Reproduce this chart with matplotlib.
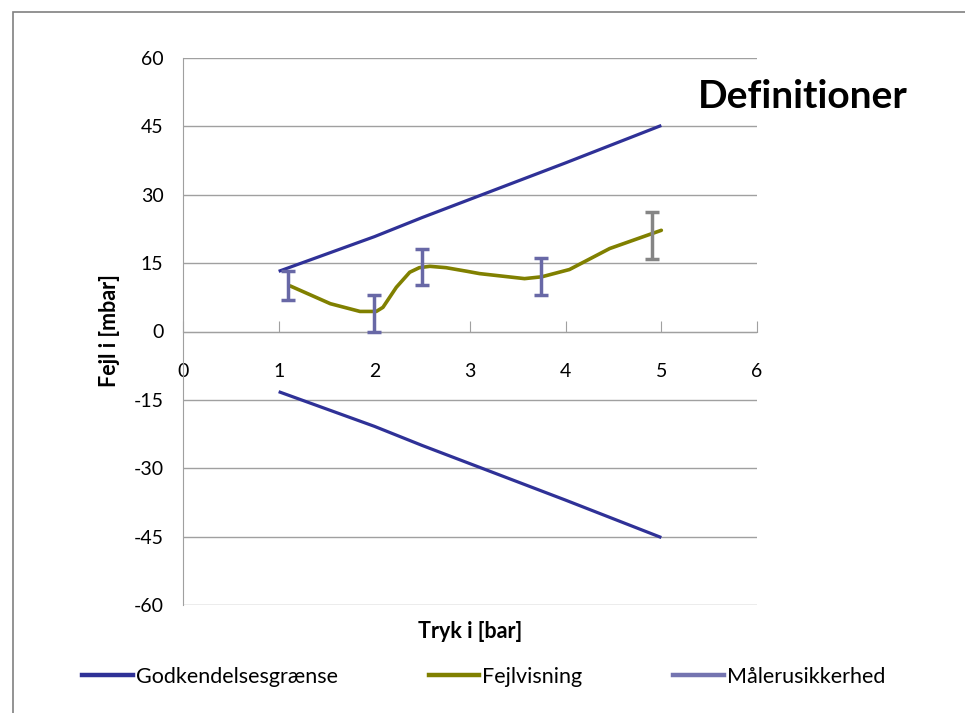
import matplotlib
matplotlib.use("Agg")
import matplotlib.pyplot as plt
from matplotlib.lines import Line2D
from matplotlib.patches import Rectangle

plt.rcParams['font.family'] = ['Lato', 'DejaVu Sans']
plt.rcParams['axes.unicode_minus'] = False

# Godkendelsesgrænse (upper / lower limits)
limit_x = [1.0, 1.5, 2.0, 2.5, 3.0, 3.75, 4.0, 5.0]
limit_upper = [13.2, 17.0, 20.8, 25.0, 29.0, 35.0, 37.0, 45.2]
limit_lower = [-13.2, -17.0, -20.8, -25.0, -29.0, -35.0, -37.0, -45.2]

# Fejlvisning
fejl_x = [1.12, 1.54, 1.85, 2.02, 2.09, 2.23, 2.37, 2.47, 2.58, 2.75, 2.97, 3.1, 3.57, 3.75, 4.04, 4.46, 5.0]
fejl_y = [10.0, 6.1, 4.4, 4.4, 5.3, 9.7, 13.0, 14.0, 14.3, 14.0, 13.2, 12.7, 11.6, 12.0, 13.6, 18.2, 22.2]

# Målerusikkerhed (error bars)
usik_x = [1.1, 2.0, 2.5, 3.74, 4.9]
usik_y = [10.1, 4.0, 14.2, 12.1, 21.0]
usik_err = [3.1, 4.1, 4.0, 4.0, 5.2]
usik_colors = ['#6868a6', '#6868a6', '#6868a6', '#6868a6', '#858585']

x_ticks = [0, 1, 2, 3, 4, 5, 6]
y_ticks = [-60, -45, -30, -15, 0, 15, 30, 45, 60]

blue = '#2f3197'
olive = '#808000'
grid_c = '#a0a0a0'

fig = plt.figure(figsize=(9.65, 7.13), dpi=100)
ax = fig.add_axes([183 / 965, 1 - 605 / 713, (757 - 183) / 965, (605 - 58) / 713])

ax.plot(limit_x, limit_upper, color=blue, lw=2.3, solid_capstyle='butt', zorder=3)
ax.plot(limit_x, limit_lower, color=blue, lw=2.3, solid_capstyle='butt', zorder=3)
ax.plot(fejl_x, fejl_y, color=olive, lw=2.6, solid_capstyle='round', zorder=3)

for xv, yv, ev, c in zip(usik_x, usik_y, usik_err, usik_colors):
    ax.errorbar([xv], [yv], yerr=[ev], fmt='none', ecolor=c, elinewidth=2.5,
                capsize=5, capthick=2.5, zorder=4)

ax.set_xlim(0, 6)
ax.set_ylim(-60, 60)
ax.set_xticks(x_ticks)
ax.set_yticks(y_ticks)
ax.yaxis.grid(True, color=grid_c, lw=1.0)
ax.set_axisbelow(True)

for s in ['top', 'right']:
    ax.spines[s].set_visible(False)
ax.spines['left'].set_color(grid_c)
ax.spines['bottom'].set_position(('data', 0))
ax.spines['bottom'].set_color(grid_c)

ax.tick_params(axis='x', direction='in', length=8, color=grid_c, pad=23, labelsize=14)
ax.tick_params(axis='y', length=0, pad=14, labelsize=14)

fig.text(470 / 965, 1 - 632 / 713, 'Tryk i [bar]', ha='center', va='center',
         fontsize=15.5, fontweight='bold')
fig.text(109 / 965, 1 - 331 / 713, 'Fejl i [mbar]', ha='center', va='center',
         rotation=90, fontsize=15.5, fontweight='bold')
fig.text(803 / 965, 1 - 97 / 713, 'Definitioner', ha='center', va='center',
         fontsize=28, fontweight='bold')

handles = [Line2D([], [], color=blue, lw=3.2),
           Line2D([], [], color=olive, lw=3.2),
           Line2D([], [], color='#7474b0', lw=3.2)]
labels = ['Godkendelsesgrænse', 'Fejlvisning', 'Målerusikkerhed']
fig.legend(handles, labels, loc='center left', bbox_to_anchor=(63 / 965, 1 - 677 / 713),
           ncol=3, frameon=False, fontsize=15.5, handlelength=2.35, handletextpad=0.15,
           columnspacing=4.2)

fig.patches.append(Rectangle((13 / 965, -0.05), 1.0, 1.05 - 12 / 713, transform=fig.transFigure,
                             fill=False, edgecolor='#808080', lw=1.2))

fig.savefig('out.png', dpi=100)
